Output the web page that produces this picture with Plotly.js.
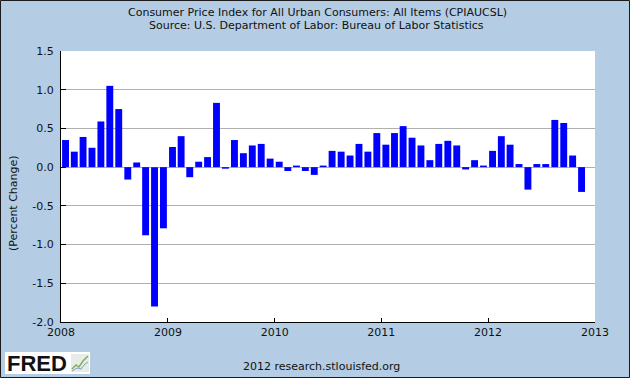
<!DOCTYPE html>
<html>
<head>
<meta charset="utf-8">
<script src="https://cdn.plot.ly/plotly-3.0.1.min.js"></script>
<style>
  html, body { margin: 0; padding: 0; background: #b4cde4; }
  #chart { width: 630px; height: 378px; }
</style>
</head>
<body>
<div id="chart"></div>
<script>
// ---- data (monthly percent change, CPIAUCSL) ----
const startYear = 2008;
const values2008 = [0.35, 0.20, 0.39, 0.25, 0.59, 1.05, 0.75, -0.16, 0.06, -0.88, -1.80, -0.79];
const values2009 = [0.26, 0.40, -0.13, 0.07, 0.13, 0.83, -0.02, 0.35, 0.18, 0.28, 0.30, 0.11];
const values2010 = [0.07, -0.05, 0.02, -0.05, -0.10, 0.02, 0.21, 0.20, 0.15, 0.30, 0.20, 0.44];
const values2011 = [0.29, 0.44, 0.53, 0.38, 0.28, 0.09, 0.30, 0.34, 0.28, -0.03, 0.09, 0.02];
const values2012 = [0.21, 0.40, 0.29, 0.04, -0.29, 0.04, 0.04, 0.61, 0.57, 0.15, -0.32];
const yTickValues = [-2.0, -1.5, -1.0, -0.5, 0.0, 0.5, 1.0, 1.5];
const xTickLabels = ['2008', '2009', '2010', '2011', '2012', '2013'];

const titleLine1 = 'Consumer Price Index for All Urban Consumers: All Items (CPIAUCSL)';
const titleLine2 = 'Source: U.S. Department of Labor: Bureau of Labor Statistics';
const yTitle = '(Percent Change)';
const footer = '2012 research.stlouisfed.org';

// ---- build series ----
const allValues = [].concat(values2008, values2009, values2010, values2011, values2012);
const months = allValues.map((v, i) => {
  const y = startYear + Math.floor(i / 12);
  const m = (i % 12) + 1;
  return y + '-' + (m < 10 ? '0' + m : m) + '-01';
});

// pixel -> paper helpers (plot area 61..595 x, 51..322 y)
const L = 61, R = 595, T = 51, B = 322;
const px = x => (x - L) / (R - L);
const py = y => (B - y) / (B - T);

const trace = {
  type: 'bar',
  x: months,
  y: allValues,
  xperiod: 'M1',
  xperiodalignment: 'middle',
  marker: { color: '#0000ff', line: { width: 0 } },
  hoverinfo: 'x+y'
};

const fam = 'DejaVu Sans, Verdana, sans-serif';
const txt = { family: fam, size: 11, color: '#111' };

const layout = {
  width: 630, height: 378,
  margin: { l: L, r: 630 - R, t: T, b: 378 - B, pad: 0 },
  paper_bgcolor: '#b4cde4',
  plot_bgcolor: '#ffffff',
  showlegend: false,
  bargap: 0.2,
  font: txt,
  xaxis: {
    type: 'date',
    range: ['2008-01-01', '2013-01-01'],
    tickvals: xTickLabels.map(y => y + '-01-01'),
    ticktext: xTickLabels,
    ticks: 'inside', ticklen: 4, tickcolor: '#000', tickwidth: 1,
    showline: true, linecolor: '#000', linewidth: 1,
    showgrid: false, zeroline: false,
    tickfont: txt,
    fixedrange: true
  },
  yaxis: {
    range: [-2.0, 1.5],
    tickvals: yTickValues,
    ticktext: yTickValues.map(v => v.toFixed(1)),
    ticks: 'inside', ticklen: 5, tickcolor: '#000', tickwidth: 1,
    showline: true, linecolor: '#000', linewidth: 1,
    showgrid: true, gridcolor: '#b0b0b0', gridwidth: 1,
    zeroline: true, zerolinecolor: '#b0b0b0', zerolinewidth: 1,
    tickfont: txt,
    ticklabelstandoff: 4,
    fixedrange: true
  },
  annotations: [
    {
      text: titleLine1, showarrow: false,
      xref: 'paper', yref: 'paper', x: px(317), y: py(12.5),
      xanchor: 'center', yanchor: 'middle', font: txt
    },
    {
      text: titleLine2, showarrow: false,
      xref: 'paper', yref: 'paper', x: px(316), y: py(26),
      xanchor: 'center', yanchor: 'middle', font: txt
    },
    {
      text: yTitle, textangle: -90, showarrow: false,
      xref: 'paper', yref: 'paper', x: px(13), y: py(203),
      xanchor: 'center', yanchor: 'middle', font: txt
    },
    {
      text: footer, showarrow: false,
      xref: 'paper', yref: 'paper', x: px(321), y: py(366),
      xanchor: 'center', yanchor: 'middle', font: txt
    },
    {
      text: '<b>FRED</b>', showarrow: false,
      xref: 'paper', yref: 'paper', x: px(5), y: py(363),
      xanchor: 'left', yanchor: 'middle',
      font: { family: 'Liberation Sans, Arial, sans-serif', size: 22, color: '#111' }
    }
  ],
  shapes: [
    // outer frame
    { type: 'rect', xref: 'paper', yref: 'paper', layer: 'above',
      x0: px(0.5), x1: px(629.5), y0: py(0.5), y1: py(377.5),
      line: { color: '#1a1a1a', width: 1 }, fillcolor: 'rgba(0,0,0,0)' },
    // FRED logo white box
    { type: 'rect', xref: 'paper', yref: 'paper', layer: 'below',
      x0: px(5), x1: px(90), y0: py(352), y1: py(374),
      line: { width: 0 }, fillcolor: '#ffffff' },
    // icon box
    { type: 'rect', xref: 'paper', yref: 'paper', layer: 'above',
      x0: px(71), x1: px(89), y0: py(354), y1: py(372),
      line: { width: 0 }, fillcolor: '#e8ece8' },
    { type: 'path', xref: 'paper', yref: 'paper', layer: 'above',
      path: 'M ' + px(72) + ' ' + py(369) + ' L ' + px(76) + ' ' + py(365) + ' L ' + px(79) + ' ' + py(367) + ' L ' + px(83) + ' ' + py(361) + ' L ' + px(88) + ' ' + py(356),
      line: { color: '#7fb05a', width: 1.5 } },
    { type: 'path', xref: 'paper', yref: 'paper', layer: 'above',
      path: 'M ' + px(72) + ' ' + py(371) + ' L ' + px(77) + ' ' + py(368) + ' L ' + px(81) + ' ' + py(369) + ' L ' + px(85) + ' ' + py(364) + ' L ' + px(88) + ' ' + py(362),
      line: { color: '#7fa0c8', width: 1 } }
  ]
};

Plotly.newPlot('chart', [trace], layout, { displayModeBar: false, staticPlot: true });
</script>
</body>
</html>
